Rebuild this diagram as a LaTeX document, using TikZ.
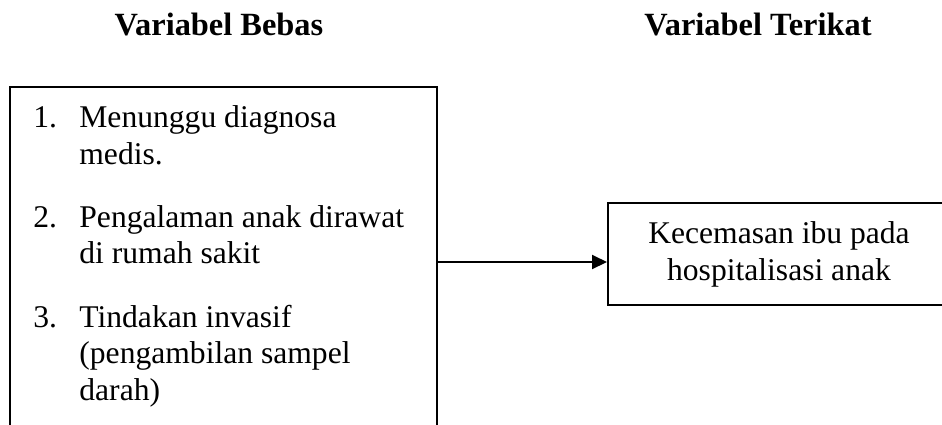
\documentclass[tikz,border=0pt]{standalone}
\usepackage{fontspec}
\setmainfont{Liberation Serif}
\usetikzlibrary{arrows.meta}

\tikzset{
  kotak/.style={draw, line width=1pt, inner sep=0pt},
  teks/.style={font=\fontsize{15.8}{18.5}\selectfont, inner sep=0pt, anchor=base west},
  judul/.style={font=\fontsize{16.2}{18.5}\selectfont\bfseries, inner sep=0pt, anchor=base},
}

\begin{document}
\begin{tikzpicture}[x=0.5pt, y=-0.5pt]
  \useasboundingbox (0,0) rectangle (942,424);

  % Headings
  \node[judul] (jbebas) at (219,35) {Variabel Bebas};
  \node[judul] (jterikat) at (758,35) {Variabel Terikat};

  % Boxes
  \node[kotak, minimum width=213.5pt, minimum height=186.5pt] (bebas) at (223.5,273.5) {};
  \node[kotak, minimum width=171pt, minimum height=51pt, align=center,
        font=\fontsize{15.8}{18.5}\selectfont] (terikat) at (779,254)
        {Kecemasan ibu pada\\hospitalisasi anak};

  % List of independent variables
  \node[teks] (n1) at (33,127) {1.};
  \node[teks] (b1a) at (79,127) {Menunggu diagnosa};
  \node[teks] (b1b) at (79,164) {medis.};
  \node[teks] (n2) at (33,227) {2.};
  \node[teks] (b2a) at (79,227) {Pengalaman anak dirawat};
  \node[teks] (b2b) at (79,263) {di rumah sakit};
  \node[teks] (n3) at (33,327) {3.};
  \node[teks] (b3a) at (79,327) {Tindakan invasif};
  \node[teks] (b3b) at (79,363) {(pengambilan sampel};
  \node[teks] (b3c) at (79,400) {darah)};

  % Arrow
  \coordinate (ypanah) at (0,262);
  \draw[line width=1pt, -{Triangle[length=7.5pt, width=7pt]}]
    (bebas.east |- ypanah) -- (terikat.west |- ypanah);
\end{tikzpicture}
\end{document}
